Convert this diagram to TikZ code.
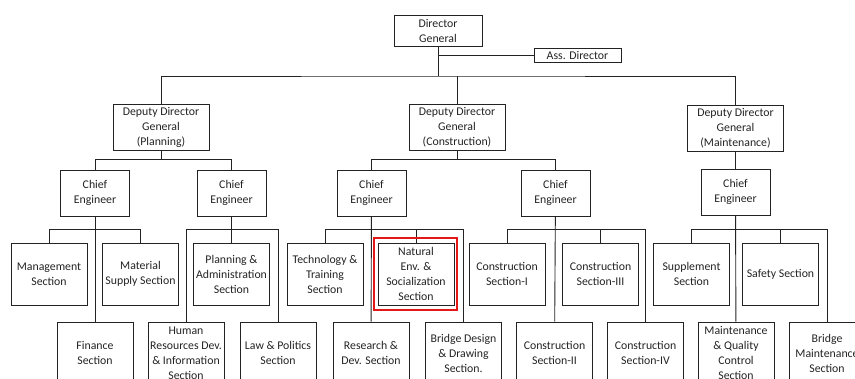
\documentclass[tikz,border=0pt]{standalone}
\usepackage{fontspec}
\setmainfont{Carlito}
\usepackage{tikz}
\definecolor{ink}{RGB}{35,35,35}
\definecolor{hred}{RGB}{228,24,24}
\tikzset{
  post/.style={draw=ink,line width=0.9pt,inner sep=0pt,align=center,text=ink},
  vdg/.style={post,minimum width=88,minimum height=31},
  vass/.style={post,minimum width=87,minimum height=14},
  vddg/.style={post,minimum width=96,minimum height=46},
  vce/.style={post,minimum width=69,minimum height=46},
  vsec/.style={post,minimum width=76,minimum height=62},
  link/.style={draw=ink,line width=0.9pt},
  mark box/.style={draw=hred,line width=2pt},
}

\begin{document}
\begin{tikzpicture}[x=1pt,y=-1pt,every node/.style={font=\fontsize{11.8}{15}\selectfont}]
\useasboundingbox (0,0) rectangle (855,378);
\node[vdg] (dg) at (438,30.5) {Director\\General};
\node[vass] (ass) at (577.5,55) {Ass. Director};
\node[vddg] (dp) at (161,127) {Deputy Director\\General\\(Planning)};
\node[vddg] (dc) at (457,127) {Deputy Director\\General\\(Construction)};
\node[vddg] (dm) at (735.5,128) {Deputy Director\\General\\(Maintenance)};
\node[vce] (cp1) at (95,193) {Chief\\Engineer};
\node[vce] (cp2) at (231.5,193) {Chief\\Engineer};
\node[vce] (cc1) at (371.5,193) {Chief\\Engineer};
\node[vce] (cc2) at (555.5,193) {Chief\\Engineer};
\node[vce] (cm1) at (735.5,192) {Chief\\Engineer};
\node[vsec] (s_mgmt) at (49,274) {Management\\Section};
\node[vsec] (s_mat) at (140.5,274) {Material\\Supply Section};
\node[vsec] (s_pla) at (231.5,274) {Planning \&\\Administration\\Section};
\node[vsec] (s_tech) at (325,274) {Technology \&\\Training\\Section};
\node[vsec] (s_nat) at (416,274) {Natural\\Env. \&\\Socialization\\Section};
\node[vsec] (s_con1) at (507,274) {Construction\\Section-I};
\node[vsec] (s_con3) at (600.5,274) {Construction\\Section-III};
\node[vsec] (s_sup) at (691.5,274) {Supplement\\Section};
\node[vsec] (s_saf) at (780.5,274) {Safety Section};
\node[vsec] (s_fin) at (95,353) {Finance\\Section};
\node[vsec] (s_hr) at (186,353) {Human\\Resources Dev.\\\& Information\\Section};
\node[vsec] (s_law) at (278,353) {Law \& Politics\\Section};
\node[vsec] (s_rnd) at (371,353) {Research \&\\Dev. Section};
\node[vsec] (s_bdd) at (463.5,353) {Bridge Design\\\& Drawing\\Section.};
\node[vsec] (s_con2) at (554.5,353) {Construction\\Section-II};
\node[vsec] (s_con4) at (645.5,353) {Construction\\Section-IV};
\node[vsec] (s_mqc) at (736,353) {Maintenance\\\& Quality\\Control\\Section};
\node[vsec] (s_brm) at (827,353) {Bridge\\Maintenance\\Section};
\coordinate (bus0) at (438,76);
% top levels
\draw[link] (dg.south) |- (ass.west);
\draw[link] (dg.south) -- (bus0);
\draw[link] (dp.north) |- (bus0) -| (dm.north);
\draw[link] (dc.north) -- (dc.north |- bus0);
\draw[link] (dp.south) -- ++(0,10);
\draw[link] (cp1.north) -- ++(0,-10) -| (cp2.north);
\draw[link] (dc.south) -- ++(0,10);
\draw[link] (cc1.north) -- ++(0,-10) -| (cc2.north);
\draw[link] (dm) -- (cm1);
% sections
\draw[link] (cp1) -- (s_fin);
\draw[link] (s_mgmt.north) -- ++(0,-13) -| (s_mat.north);
\draw[link] (cp2) -- (s_pla);
\draw[link] (s_hr.north) -- ++(0,-92) -| (s_law.north);
\draw[link] (cc1) -- (s_rnd);
\draw[link] (s_tech.north) -- ++(0,-13) -| (s_bdd.north);
\draw[link] (s_nat.north) -- ++(0,-13);
\draw[link] (cc2) -- (s_con2);
\draw[link] (s_con1.north) -- ++(0,-13) -| (s_con4.north);
\draw[link] (s_con3.north) -- ++(0,-13);
\draw[link] (cm1) -- (s_mqc);
\draw[link] (s_sup.north) -- ++(0,-13) -| (s_brm.north);
\draw[link] (s_saf.north) -- ++(0,-13);
\draw[mark box] ([shift={(-4,-5)}]s_nat.north west) rectangle ([shift={(3,5)}]s_nat.south east);
\end{tikzpicture}
\end{document}
